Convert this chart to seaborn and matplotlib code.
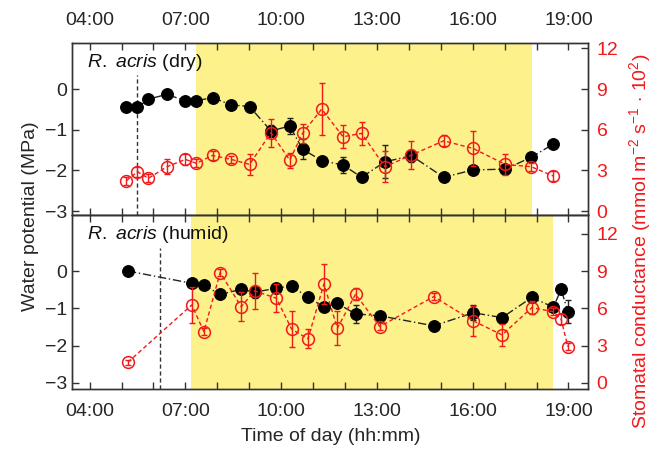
#!/usr/bin/env python3
"""Diurnal water potential and stomatal conductance of R. acris (dry vs humid)."""

import matplotlib

matplotlib.use("Agg")
import matplotlib.pyplot as plt
import seaborn as sns

# x axis (decimal hours)
hour_ticks = [4, 7, 10, 13, 16, 19]
hour_labels = ["04:00", "07:00", "10:00", "13:00", "16:00", "19:00"]
minor_hours = list(range(4, 20))

# dry site
dry_time = [5.15, 5.5, 5.84, 6.42, 7.0, 7.34, 7.85, 8.43, 9.01, 9.68, 10.27,
            10.67, 11.27, 11.94, 12.52, 13.25, 14.08, 15.09, 16.01, 17.02, 17.83, 18.53]
dry_wp = [-0.45, -0.45, -0.25, -0.13, -0.29, -0.29, -0.21, -0.39, -0.43, -1.03, -0.91,
          -1.48, -1.76, -1.87, -2.17, -1.79, -1.64, -2.17, -1.99, -1.97, -1.68, -1.35]
dry_wp_err = [0.04, 0.04, 0.04, 0.04, 0.04, 0.04, 0.04, 0.04, 0.04, 0.15, 0.19,
              0.25, 0.04, 0.2, 0.04, 0.41, 0.15, 0.04, 0.1, 0.1, 0.1, 0.04]
dry_gs = [2.23, 2.90, 2.41, 3.26, 3.81, 3.52, 4.10, 3.81, 3.44, 5.77, 3.76,
          5.73, 7.52, 5.48, 5.73, 3.27, 4.13, 5.18, 4.62, 3.44, 3.27, 2.58]
dry_gs_err = [0.3, 0.37, 0.3, 0.55, 0.4, 0.3, 0.3, 0.25, 0.76, 1.03, 0.55,
              0.7, 1.94, 0.86, 0.86, 1.13, 1.0, 0.4, 1.28, 0.77, 0.3, 0.35]

# humid site
humid_time = [5.2, 7.2, 7.58, 8.09, 8.75, 9.17, 9.85, 10.33, 10.84, 11.34,
              11.76, 12.33, 13.09, 14.78, 16.02, 16.92, 17.85, 18.53, 18.77, 18.98]
humid_wp = [0.0, -0.33, -0.38, -0.63, -0.49, -0.57, -0.46, -0.40, -0.71, -0.96,
            -0.87, -1.15, -1.20, -1.47, -1.12, -1.25, -0.71, -0.97, -0.49, -1.09]
humid_wp_err = [0.04, 0.04, 0.04, 0.04, 0.04, 0.15, 0.1, 0.04, 0.04, 0.04,
                0.04, 0.25, 0.04, 0.04, 0.2, 0.04, 0.04, 0.04, 0.04, 0.3]
humid_gs = [1.66, 6.27, 4.12, 8.87, 6.13, 7.40, 6.81, 4.32, 3.54, 7.96,
            4.40, 7.13, 4.53, 6.94, 4.98, 3.86, 6.05, 5.73, 5.12, 2.92]
humid_gs_err = [0.2, 1.45, 0.3, 0.3, 1.17, 1.47, 1.14, 1.47, 0.77, 1.6,
                1.37, 0.5, 0.3, 0.3, 1.18, 0.87, 0.5, 0.3, 0.4, 0.25]

# shaded (sunlit) periods and dashed markers
dry_span = (7.34, 17.87)
humid_span = (7.19, 18.53)
dry_dash = (5.5, 0.34)
humid_dash = (6.19, 0.62)

YELLOW = "#fdf18c"
RED = "#f2191b"
FS = 14

sns.set_style("ticks")
plt.rcParams["font.family"] = ["Liberation Sans", "DejaVu Sans"]
plt.rcParams["mathtext.fontset"] = "custom"
plt.rcParams["mathtext.rm"] = "Liberation Sans"
plt.rcParams["mathtext.it"] = "Liberation Sans:italic"
plt.rcParams["axes.edgecolor"] = "#333333"
plt.rcParams["axes.linewidth"] = 1.0


def draw_panel(ax, time, wp, wp_err, gs, gs_err, span, dash, ylim, label):
    ax.axvspan(span[0], span[1], color=YELLOW, lw=0, zorder=0)
    ax.vlines(dash[0], ylim[0], dash[1], colors="#333333", linestyles=(0, (3, 2)),
              lw=1.0, zorder=1)

    ax.errorbar(time, wp, yerr=wp_err, fmt="none", ecolor="#222222",
                elinewidth=1.0, capsize=2.5, zorder=2)
    sns.lineplot(x=time, y=wp, ax=ax, color="#222222", lw=1.0,
                 linestyle=(0, (6, 2, 1, 2)), marker="o", markersize=8.5,
                 markerfacecolor="black", markeredgecolor="black", zorder=3)
    ax.set_ylim(ylim)
    ax.set_xlim(3.44, 19.62)
    ax.set_yticks([0, -1, -2, -3])
    ax.set_xticks(hour_ticks)
    ax.set_xticks(minor_hours, minor=True)
    ax.set_xlabel("")
    ax.set_ylabel("")
    ax.tick_params(axis="both", which="both", direction="in", length=5,
                   width=1.0, color="#333333", labelsize=FS)
    ax.tick_params(axis="x", which="both", top=True, bottom=True, pad=10)
    ax.tick_params(axis="y", which="both", left=True, right=False, pad=3)
    ax.text(0.03, 0.95, label, transform=ax.transAxes, ha="left", va="top",
            fontsize=FS, color="#111111")

    ax2 = ax.twinx()
    ax2.errorbar(time, gs, yerr=gs_err, fmt="none", ecolor=RED,
                 elinewidth=1.0, capsize=2.5, zorder=2)
    sns.lineplot(x=time, y=gs, ax=ax2, color=RED, lw=1.0,
                 linestyle=(0, (3, 2)), marker="o", markersize=8.5,
                 markerfacecolor="none", markeredgecolor=RED,
                 markeredgewidth=1.1, zorder=3)
    ax2.set_ylim((ylim[0] + 3) * 3, (ylim[1] + 3) * 3)
    ax2.set_yticks([0, 3, 6, 9, 12])
    ax2.set_ylabel("")
    ax2.tick_params(axis="y", direction="in", length=5, width=1.0,
                    color="#333333", labelsize=FS, labelcolor=RED, pad=6)
    return ax2


fig = plt.figure(figsize=(6.58, 4.49), dpi=100)
ax_top = fig.add_axes([0.109, 0.521, 0.785, 0.383])
ax_bot = fig.add_axes([0.109, 0.134, 0.785, 0.387])

draw_panel(ax_top, dry_time, dry_wp, dry_wp_err, dry_gs, dry_gs_err,
           dry_span, dry_dash, (-3.1, 1.13), r"$\it{R.\ acris}$ (dry)")
draw_panel(ax_bot, humid_time, humid_wp, humid_wp_err, humid_gs, humid_gs_err,
           humid_span, humid_dash, (-3.16, 1.5), r"$\it{R.\ acris}$ (humid)")

ax_top.set_xticklabels(hour_labels)
ax_top.tick_params(axis="x", labeltop=True, labelbottom=False)
ax_bot.set_xticklabels(hour_labels)
ax_bot.tick_params(axis="x", labeltop=False, labelbottom=True)

fig.text(0.046, 0.519, "Water potential (MPa)", rotation=90, ha="center",
         va="center", fontsize=FS)
fig.text(0.973, 0.463,
         r"Stomatal conductance (mmol m$^{-2}$ s$^{-1}$ $\cdot$ 10$^{2}$)",
         rotation=90, ha="center", va="center", fontsize=FS, color=RED)
fig.text(0.503, 0.027, "Time of day (hh:mm)", ha="center", va="center",
         fontsize=FS)

plt.savefig("out.png", dpi=100)
plt.close()
